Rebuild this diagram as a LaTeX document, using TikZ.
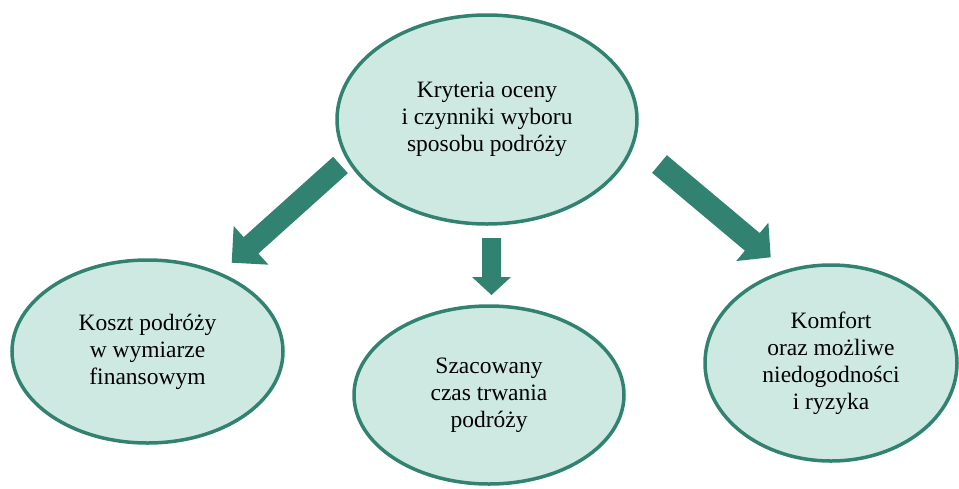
\documentclass[tikz,border=0pt]{standalone}
\usepackage{fontspec}
\setmainfont{Liberation Serif}
\usetikzlibrary{shapes.geometric,calc}

\definecolor{tealdark}{RGB}{49,130,112}
\definecolor{tealpale}{RGB}{206,233,225}

% Block arrow from #1 (tail centre) to #2 (tip):
% #3 half shaft width, #4 half head width, #5 head length
\newcommand\blockarrow[5]{%
  \coordinate (hb) at ($(#2)!#5!(#1)$);
  \fill[arrowfill]
    ($(#1)!#3!90:(#2)$) -- ($(hb)!#3!90:(#2)$) -- ($(hb)!#4!90:(#2)$) --
    (#2) --
    ($(hb)!#4!-90:(#2)$) -- ($(hb)!#3!-90:(#2)$) -- ($(#1)!#3!-90:(#2)$) -- cycle;
}

\begin{document}
\begin{tikzpicture}[x=1pt,y=-1pt,
  bubble/.style={ellipse, draw=tealdark, fill=tealpale, line width=3.5pt,
    inner sep=0pt, align=center,
    font=\fontsize{23.5}{27}\selectfont},
  arrowfill/.style={fill=tealdark}]
  \useasboundingbox (0,0) rectangle (959,488);

  % ellipses
  \node[bubble, minimum width=300pt, minimum height=209pt] (top) at (487,119.5)
    {Kryteria oceny\\i czynniki wyboru\\sposobu podróży};
  \node[bubble, minimum width=271pt, minimum height=183pt] (cost) at (147.5,351.5)
    {Koszt podróży\\w wymiarze\\finansowym};
  \node[bubble, minimum width=270pt, minimum height=178pt] (time) at (489,395)
    {Szacowany\\czas trwania\\podróży};
  \node[bubble, minimum width=252pt, minimum height=196pt] (comfort) at (831,363)
    {Komfort\\oraz możliwe\\niedogodności\\i ryzyka};

  % arrow ends
  \coordinate (la) at (340.5,165);
  \coordinate (lb) at (231.7,262.7);
  \coordinate (ma) at (491.5,238);
  \coordinate (mb) at (491.5,295);
  \coordinate (ra) at (659.5,164);
  \coordinate (rb) at (770.7,257.3);

  % arrows from the central question to each criterion
  \blockarrow{la}{lb}{11pt}{26pt}{26pt}
  \blockarrow{ma}{mb}{9.5pt}{19.5pt}{18pt}
  \blockarrow{ra}{rb}{11.5pt}{25pt}{24pt}
\end{tikzpicture}
\end{document}
